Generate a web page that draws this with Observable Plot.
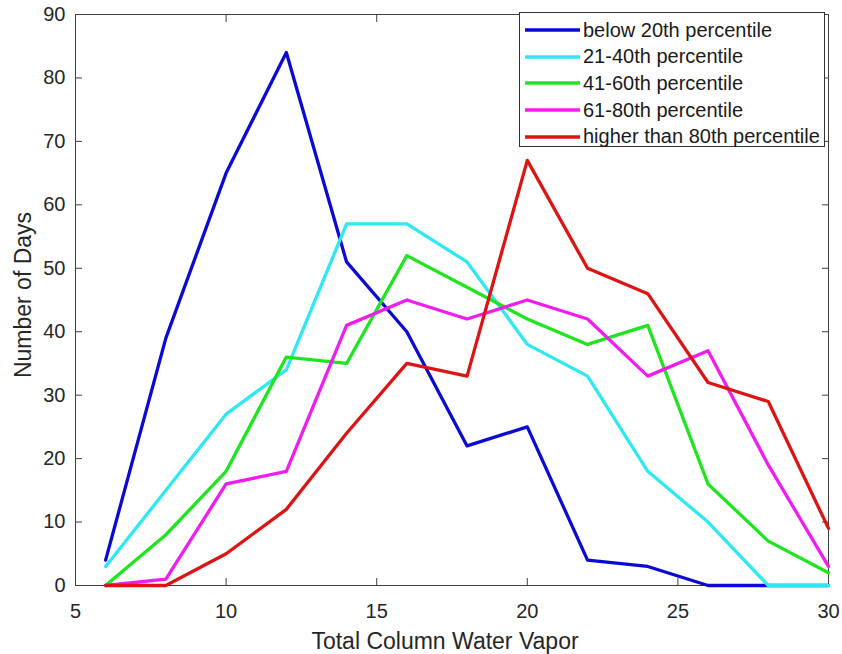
<!DOCTYPE html>
<html><head><meta charset="utf-8">
<script src="https://cdn.jsdelivr.net/npm/d3@7"></script>
<script src="https://cdn.jsdelivr.net/npm/@observablehq/plot@0.6"></script>
<style>
body{margin:0;background:#fff;font-family:"Liberation Sans",Arial,sans-serif}
#wrap{position:relative;width:842px;height:654px}
#legend{position:absolute;left:519px;top:12px;width:306px;height:135px;border:1px solid #333;background:#fff;box-sizing:border-box;padding-top:4px}
.row{display:flex;align-items:center;height:26.6px;font-size:20px;color:#1a1a1a;white-space:nowrap}
.row svg{margin-left:5px;margin-right:3px;flex:none}
</style>
</head><body>
<div id="wrap"></div>
<script>
const xValues = [6, 8, 10, 12, 14, 16, 18, 20, 22, 24, 26, 28, 30];
const seriesNames = ["below 20th percentile", "21-40th percentile", "41-60th percentile", "61-80th percentile", "higher than 80th percentile"];
const seriesColors = ["#0a0ad2", "#2ee8f2", "#1ee61e", "#f01cf0", "#dd1414"];
const below20 = [4, 39, 65, 84, 51, 40, 22, 25, 4, 3, 0, 0, 0];
const p21to40 = [3, 15, 27, 34, 57, 57, 51, 38, 33, 18, 10, 0, 0];
const p41to60 = [0, 8, 18, 36, 35, 52, 47, 42, 38, 41, 16, 7, 2];
const p61to80 = [0, 1, 16, 18, 41, 45, 42, 45, 42, 33, 37, 19, 3];
const above80 = [0, 0, 5, 12, 24, 35, 33, 67, 50, 46, 32, 29, 9];
const xTicks = [5, 10, 15, 20, 25, 30];
const yTicks = [0, 10, 20, 30, 40, 50, 60, 70, 80, 90];

const allSeries = [below20, p21to40, p41to60, p61to80, above80];
const data = [];
allSeries.forEach((vals, si) => vals.forEach((v, i) => data.push({series: seriesNames[si], x: xValues[i], y: v})));

const chart = Plot.plot({
  width: 842, height: 654,
  marginLeft: 75, marginRight: 14, marginTop: 14, marginBottom: 69,
  style: {fontFamily: '"Liberation Sans", Arial, sans-serif', background: "#fff"},
  x: {domain: [5, 30]},
  y: {domain: [0, 90]},
  color: {domain: seriesNames, range: seriesColors},
  marks: [
    Plot.frame({stroke: "#404040", strokeWidth: 1}),
    Plot.axisX(xTicks, {anchor: "bottom", tickSize: -7, tickPadding: 25, fontSize: 20, color: "#262626", stroke: "#404040", label: "Total Column Water Vapor", labelAnchor: "center", labelOffset: 63, labelArrow: "none"}),
    Plot.axisX(xTicks, {anchor: "top", tickSize: -7, tickFormat: () => "", label: null, stroke: "#404040"}),
    Plot.axisY(yTicks, {anchor: "left", tickSize: -7, tickPadding: 17, fontSize: 20, color: "#262626", stroke: "#404040", label: "Number of Days", labelAnchor: "center", labelOffset: 61, labelArrow: "none"}),
    Plot.axisY(yTicks, {anchor: "right", tickSize: -7, tickFormat: () => "", label: null, stroke: "#404040"}),
    Plot.line(data, {x: "x", y: "y", z: "series", stroke: "series", strokeWidth: 3.3, strokeLinejoin: "round"})
  ]
});
d3.select(chart).selectAll("[aria-label='x-axis label'] text").attr("font-size", 23).attr("fill", "#262626").attr("dx", -7);
d3.select(chart).selectAll("[aria-label='y-axis label'] text").attr("font-size", 23).attr("fill", "#262626").attr("dx", 5);
document.getElementById("wrap").appendChild(chart);

const legend = document.createElement("div");
legend.id = "legend";
seriesNames.forEach((name, i) => {
  const row = document.createElement("div");
  row.className = "row";
  row.innerHTML = `<svg width="55" height="6"><line x1="0" y1="3" x2="55" y2="3" stroke="${seriesColors[i]}" stroke-width="3.3"/></svg><span>${name}</span>`;
  legend.appendChild(row);
});
document.getElementById("wrap").appendChild(legend);
</script>
</body></html>
